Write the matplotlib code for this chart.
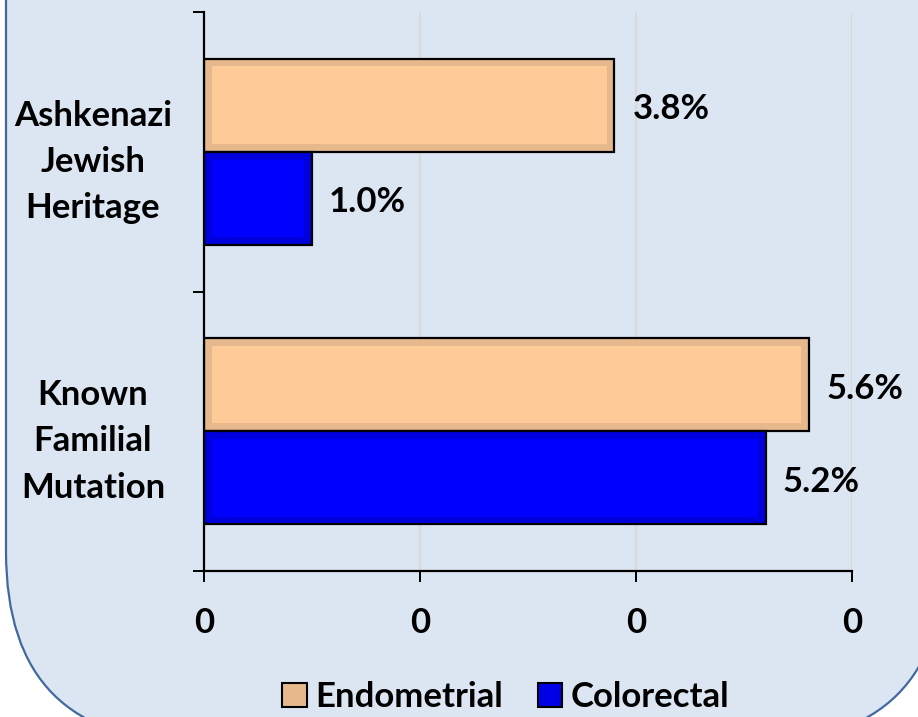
import matplotlib
matplotlib.use('Agg')
import matplotlib.pyplot as plt
from matplotlib.patches import FancyBboxPatch
from matplotlib.ticker import FuncFormatter, FixedLocator

plt.rcParams['font.family'] = ['Lato', 'DejaVu Sans']
plt.rcParams['font.weight'] = 'bold'

# data (fractions)
categories = ['Known\nFamilial\nMutation', 'Ashkenazi\nJewish\nHeritage']
endometrial = [0.056, 0.038]
colorectal = [0.052, 0.010]
value_labels_endo = ['5.6%', '3.8%']
value_labels_colo = ['5.2%', '1.0%']

W, H = 918, 717
FS = 25
fig = plt.figure(figsize=(W / 100, H / 100), dpi=100)
fig.patch.set_facecolor('white')

# rounded background panel (cropped by figure edges)
R = 190
panel = FancyBboxPatch((6, -25), 945 - 6, 940, boxstyle='round,pad=0,rounding_size=%d' % R,
                       transform=None, facecolor='#dce6f2', edgecolor='#41699f',
                       linewidth=1.6, zorder=-10)
fig.patches.append(panel)

ax = fig.add_axes([204 / W, 1 - 571 / H, (852 - 204) / W, (571 - 12) / H])
ax.set_facecolor('none')
ax.set_zorder(5)

bh = 1 / 3.0
ys = range(len(categories))
y_endo = [y + bh / 2 for y in ys]
y_colo = [y - bh / 2 for y in ys]

ix = 0.0007   # bevel inset, x
iy = 0.028    # bevel inset, y

ax.barh(y_endo, endometrial, height=bh, color='#e6b88c', edgecolor='black', linewidth=1.6, zorder=3)
ax.barh(y_endo, [v - 2 * ix for v in endometrial], left=ix, height=bh - 2 * iy,
        color='#fecb98', linewidth=0, zorder=4)
ax.barh(y_colo, colorectal, height=bh, color='#0000dc', edgecolor='black', linewidth=1.6, zorder=3)
ax.barh(y_colo, [v - 2 * ix for v in colorectal], left=ix, height=bh - 2 * iy,
        color='#0000ff', linewidth=0, zorder=4)

for y, v, t in zip(y_endo, endometrial, value_labels_endo):
    ax.annotate(t, (v, y), xytext=(13, -3), textcoords='offset points',
                ha='left', va='center', fontsize=FS, fontweight='bold')
for y, v, t in zip(y_colo, colorectal, value_labels_colo):
    ax.annotate(t, (v, y), xytext=(12, -3), textcoords='offset points',
                ha='left', va='center', fontsize=FS, fontweight='bold')

ax.set_xlim(0, 0.06)
ax.set_ylim(-0.5, 1.5)
ax.set_xticks([0, 0.02, 0.04, 0.06])
ax.xaxis.set_major_formatter(FuncFormatter(lambda v, p: '%.0f' % v))
ax.set_yticks(list(ys))
ax.set_yticklabels(categories, ha='center', multialignment='center', linespacing=1.55)
ax.yaxis.set_minor_locator(FixedLocator([-0.5, 0.5, 1.5]))

ax.tick_params(axis='y', which='major', length=0, pad=80, labelsize=FS)
ax.tick_params(axis='y', which='minor', length=8, width=1.4, direction='out')
ax.tick_params(axis='x', which='major', length=8, width=1.4, direction='out', pad=18, labelsize=FS)

ax.grid(axis='x', color='#d9d9d9', linewidth=1.5, zorder=0)
ax.set_axisbelow(True)
for s in ['top', 'right']:
    ax.spines[s].set_visible(False)
for s in ['left', 'bottom']:
    ax.spines[s].set_linewidth(1.6)
    ax.spines[s].set_zorder(5)

handles = [plt.Rectangle((0, 0), 1, 1, facecolor='#e6b88c', edgecolor='black', linewidth=1.5),
           plt.Rectangle((0, 0), 1, 1, facecolor='#0000e6', edgecolor='black', linewidth=1.5)]
fig.legend(handles, ['Endometrial', 'Colorectal'], loc='center', bbox_to_anchor=(506 / W, 1 - 697 / H),
           ncol=2, frameon=False, handlelength=0.7, handleheight=0.7,
           handletextpad=0.25, columnspacing=1.0, prop={'weight': 'bold', 'size': FS})

fig.savefig('out.png', dpi=100, facecolor=fig.get_facecolor())
